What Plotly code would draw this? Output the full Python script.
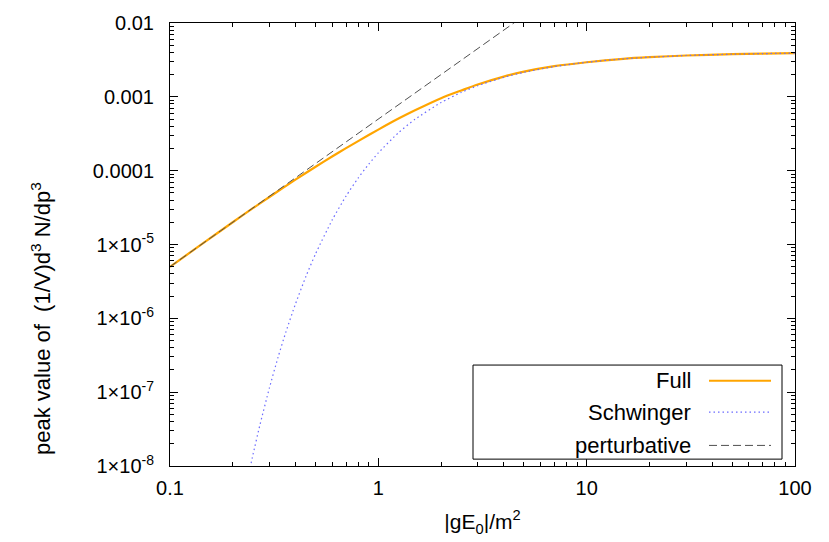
import plotly.graph_objects as go

# ---- data ----
full_x = [0.1, 0.15, 0.2, 0.25, 0.3, 0.35, 0.4, 0.5, 0.6, 0.7, 0.8, 1.0, 1.25, 1.5, 2, 2.5, 3, 4, 5, 7, 10, 15, 20, 30, 50, 70, 100]
full_y = [5.0e-6, 1.125e-5, 2.0e-5, 3.1e-5, 4.4e-5, 5.9e-5, 7.55e-5, 1.131e-4, 1.557e-4, 2.021e-4, 2.512e-4, 3.6e-4,
          5.08e-4, 6.58e-4, 9.6e-4, 1.219e-3, 1.47e-3, 1.88e-3, 2.19e-3, 2.6e-3, 2.94e-3, 3.27e-3, 3.44e-3,
          3.63e-3, 3.78e-3, 3.85e-3, 3.9e-3]

schw_x = [0.24, 0.25, 0.27, 0.3, 0.33, 0.36, 0.4, 0.45, 0.5, 0.6, 0.7, 0.8, 0.9, 1.0, 1.25, 1.5, 2, 2.5, 3, 4, 5, 7, 10, 15, 20, 30, 50, 70, 100]
schw_y = [8.3e-9, 1.41e-8, 3.57e-8, 1.14e-7, 2.96e-7, 6.54e-7, 1.56e-6, 3.74e-6, 7.5e-6, 2.14e-5, 4.53e-5,
          7.94e-5, 1.228e-4, 1.74e-4, 3.27e-4, 4.96e-4, 8.38e-4, 1.147e-3, 1.415e-3, 1.838e-3, 2.15e-3,
          2.57e-3, 2.94e-3, 3.27e-3, 3.44e-3, 3.63e-3, 3.78e-3, 3.85e-3, 3.905e-3]

pert_x = [0.1, 5.0]
pert_y = [5.0e-6, 1.25e-2]

x_tickvals = [0.1, 1, 10, 100]
x_ticktext = ["0.1", "1", "10", "100"]
y_tickvals = [1e-2, 1e-3, 1e-4, 1e-5, 1e-6, 1e-7, 1e-8]
y_ticktext = ["0.01", "0.001", "0.0001", "1×10<sup>-5</sup>", "1×10<sup>-6</sup>",
              "1×10<sup>-7</sup>", "1×10<sup>-8</sup>"]
legend_names = ["Full", "Schwinger", "perturbative"]

FULL_C = "#ffa500"
SCHW_C = "#6b6bff"
PERT_C = "#505050"
FONT = "Liberation Sans, Arial, sans-serif"

fig = go.Figure()
fig.add_trace(go.Scatter(x=full_x, y=full_y, mode="lines", name=legend_names[0],
                         line=dict(color=FULL_C, width=2.2, shape="spline", smoothing=0.8)))
fig.add_trace(go.Scatter(x=schw_x, y=schw_y, mode="lines", name=legend_names[1],
                         line=dict(color=SCHW_C, width=1.2, dash="1.5px,3px", shape="spline", smoothing=0.6)))
fig.add_trace(go.Scatter(x=pert_x, y=pert_y, mode="lines", name=legend_names[2],
                         line=dict(color=PERT_C, width=1, dash="8px,4px")))

def minor_vals(lo, hi):
    vals = []
    d = lo
    while d < hi:
        for k in range(2, 10):
            vals.append(k * d)
        d *= 10
    return vals

fig.update_xaxes(type="log", range=[-1, 2], tickvals=x_tickvals, ticktext=x_ticktext,
                 ticks="inside", ticklen=8, tickwidth=1, tickcolor="black",
                 mirror="allticks", showline=True, linecolor="black", linewidth=1,
                 showgrid=False, zeroline=False, ticklabelstandoff=4,
                 minor=dict(tickvals=minor_vals(0.1, 100), ticks="inside", ticklen=4,
                            tickcolor="black", showgrid=False),
                 tickfont=dict(family=FONT, size=20, color="black"),
                 title=dict(text="|gE<sub>0</sub>|/m<sup>2</sup>", standoff=16,
                            font=dict(family=FONT, size=21, color="black")))
fig.update_yaxes(type="log", range=[-8, -2], tickvals=y_tickvals, ticktext=y_ticktext,
                 ticks="inside", ticklen=8, tickwidth=1, tickcolor="black",
                 mirror="allticks", showline=True, linecolor="black", linewidth=1,
                 showgrid=False, zeroline=False, ticklabelstandoff=11,
                 minor=dict(tickvals=minor_vals(1e-8, 1e-2), ticks="inside", ticklen=4,
                            tickcolor="black", showgrid=False),
                 tickfont=dict(family=FONT, size=20, color="black"))

# plot area in pixels: x 170..795, y 16..468
W, H = 829, 542
L, R, T, B = 170, 795, 16, 468
def px(xp):
    return (xp - L) / (R - L)
def py(yp):
    return (B - yp) / (B - T)

shapes = [dict(type="rect", xref="paper", yref="paper", x0=px(473), x1=px(782), y0=py(461), y1=py(365),
               line=dict(color="black", width=1), fillcolor="white", layer="above")]
annots = []
rows = [(381, FULL_C, 2.2, "solid"), (413, SCHW_C, 1.2, "1.5px,3px"), (447, PERT_C, 1, "8px,4px")]
for name, (yy, c, w, d) in zip(legend_names, rows):
    shapes.append(dict(type="line", xref="paper", yref="paper", x0=px(709), x1=px(771), y0=py(yy), y1=py(yy),
                       line=dict(color=c, width=w, dash=d), layer="above"))
    annots.append(dict(text=name, xref="paper", yref="paper", x=px(693), y=py(yy), xanchor="right",
                       yanchor="middle", showarrow=False, font=dict(family=FONT, size=22, color="black")))

annots.append(dict(text="peak value of &nbsp;(1/V)d<sup>3</sup> N/dp<sup>3</sup>", textangle=-90,
                   xref="paper", yref="paper", x=px(41), y=py(318), xanchor="center", yanchor="middle",
                   showarrow=False, font=dict(family=FONT, size=22, color="black")))

fig.update_layout(width=W, height=H, margin=dict(l=L, r=W - R, t=T, b=H - B, pad=0),
                  paper_bgcolor="white", plot_bgcolor="white", showlegend=False,
                  shapes=shapes, annotations=annots,
                  font=dict(family=FONT, size=20, color="black"))

fig.write_html("out.html")
